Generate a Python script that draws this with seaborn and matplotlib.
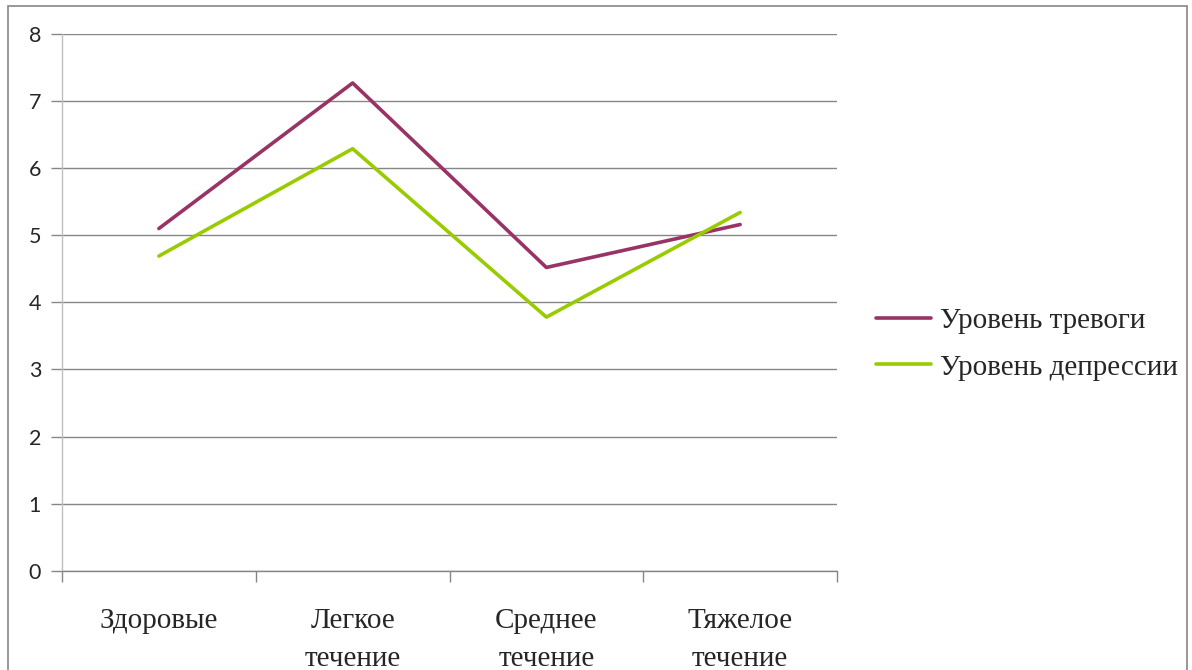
import numpy as np
import pandas as pd
import matplotlib
matplotlib.use("Agg")
import matplotlib.pyplot as plt
from matplotlib.patches import Rectangle
import seaborn as sns

# Data
categories = ["Здоровые", "Легкое\nтечение", "Среднее\nтечение", "Тяжелое\nтечение"]
series_names = ["Уровень тревоги", "Уровень депрессии"]
anxiety = [5.10, 7.27, 4.52, 5.16]
depression = [4.69, 6.29, 3.78, 5.34]
y_ticks = [0, 1, 2, 3, 4, 5, 6, 7, 8]

colors = {"Уровень тревоги": "#993366", "Уровень депрессии": "#99CC00"}

df = pd.DataFrame({
    "category": categories * 2,
    "value": anxiety + depression,
    "series": [series_names[0]] * 4 + [series_names[1]] * 4,
})

sns.set_theme(style="white")
plt.rcParams["font.family"] = ["Liberation Serif", "DejaVu Serif"]

fig = plt.figure(figsize=(11.92, 6.70), dpi=100)
ax = fig.add_axes([62 / 1192, 1 - 570.7 / 670, (837 - 62) / 1192, (570.7 - 34) / 670])

sns.lineplot(data=df, x="category", y="value", hue="series", palette=colors,
             linewidth=2.6, sort=False, ax=ax, legend=False)

# Axes ranges and grid
ax.set_xlim(-0.5, len(categories) - 0.5)
ax.set_ylim(0, 8)
ax.set_yticks(y_ticks)
ax.set_yticklabels([str(t) for t in y_ticks], fontfamily="Lato", fontsize=15.5)
ax.yaxis.grid(True, color="#868686", linewidth=1.0)
ax.set_axisbelow(True)
ax.tick_params(axis="y", which="major", length=8, width=1, color="#868686",
               left=True, pad=7)

# Category labels centered, tick marks at category boundaries
ax.set_xticks(range(len(categories)))
ax.set_xticklabels(categories, fontsize=21, linespacing=1.6, va="top")
ax.tick_params(axis="x", which="major", length=0, pad=27)
ax.set_xticks(np.arange(-0.5, len(categories), 1.0), minor=True)
ax.tick_params(axis="x", which="minor", length=8, width=1, color="#868686",
               bottom=True)

for side in ["top", "right"]:
    ax.spines[side].set_visible(False)
ax.spines["left"].set_color("#BFBFBF")
ax.spines["bottom"].set_color("#868686")
ax.spines["left"].set_linewidth(1.0)
ax.spines["bottom"].set_linewidth(1.0)
ax.set_xlabel("")
ax.set_ylabel("")

# Legend
handles = [plt.Line2D([], [], color=colors[n], linewidth=2.6) for n in series_names]
fig.legend(handles, series_names, loc="center left",
           bbox_to_anchor=(876 / 1192, 1 - 344 / 670), frameon=False,
           fontsize=21, handlelength=1.9, handletextpad=0.3, labelspacing=0.7,
           borderpad=0, borderaxespad=0)

# Chart border
fig.patches.append(Rectangle((8 / 1192, -0.2), (1187 - 8) / 1192, 1.2 - 6 / 670,
                             transform=fig.transFigure, fill=False,
                             edgecolor="#868686", linewidth=1.2, clip_on=False))

fig.savefig("out.png", dpi=100)
